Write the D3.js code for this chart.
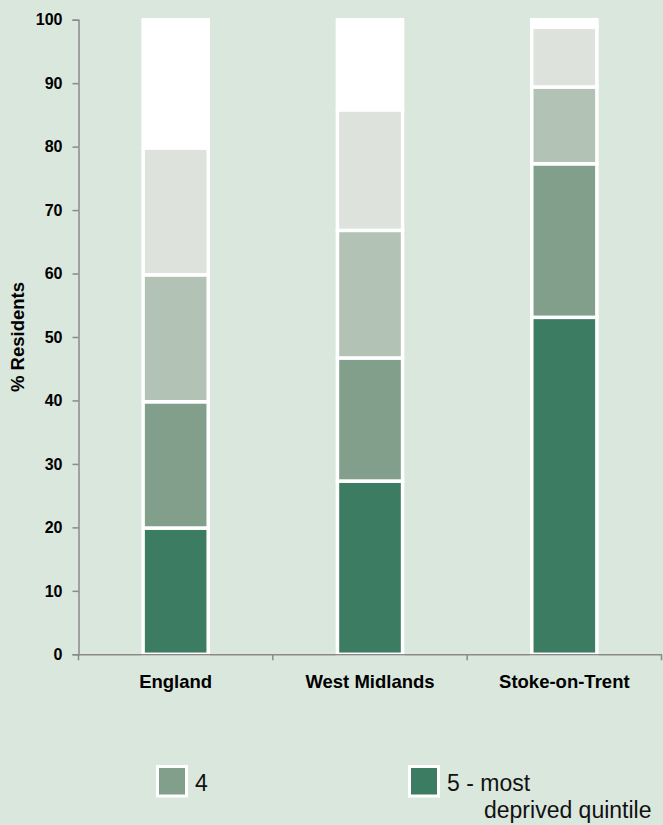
<!DOCTYPE html>
<html>
<head>
<meta charset="utf-8">
<script src="https://cdn.jsdelivr.net/npm/d3@7"></script>
<style>
  html, body { margin: 0; padding: 0; background: #dae7dd; }
  svg { display: block; }
</style>
</head>
<body>
<div id="chart"></div>
<script>
// ---- data ----
const categories = ["England", "West Midlands", "Stoke-on-Trent"];
const quintileKeys = ["q5", "q4", "q3", "q2", "q1"]; // stacking order, bottom first
const q5 = [19.9, 27.3, 53.1]; // 5 - most deprived quintile
const q4 = [19.9, 19.4, 24.2];
const q3 = [20.0, 20.1, 12.1];
const q2 = [20.0, 19.0, 9.4];
const q1 = [20.2, 14.2, 1.2];  // 1 - least deprived
const yTicks = [0, 10, 20, 30, 40, 50, 60, 70, 80, 90, 100];
const yTitle = "% Residents";
const legendKeys = ["q4", "q5"];
const legendLabels = [["4"], ["5 - most", "deprived quintile"]];

const colors = { q1: "#ffffff", q2: "#dde2dc", q3: "#b2c2b4", q4: "#829f8c", q5: "#3c7c62" };

const W = 663, H = 825;
const margin = { left: 78.5, right: 1.5, top: 19.7, bottom: 825 - 654.3 };

const rows = categories.map((c, i) => ({ cat: c, q1: q1[i], q2: q2[i], q3: q3[i], q4: q4[i], q5: q5[i] }));
const series = d3.stack().keys(quintileKeys)(rows);

const svg = d3.select("#chart").append("svg").attr("width", W).attr("height", H);

const x = d3.scaleBand().domain(categories).range([margin.left, W - margin.right]).paddingInner(0).paddingOuter(0);
const y = d3.scaleLinear().domain([0, 100]).range([H - margin.bottom, margin.top]);

const barW = x.bandwidth() * 0.335;

// bars
const g = svg.append("g");
series.forEach(s => {
  g.selectAll(null).data(s).enter().append("rect")
    .attr("x", d => x(d.data.cat) + x.bandwidth() / 2 - barW / 2)
    .attr("y", d => y(d[1]))
    .attr("width", barW)
    .attr("height", d => y(d[0]) - y(d[1]))
    .attr("fill", colors[s.key])
    .attr("stroke", "#ffffff")
    .attr("stroke-width", 3.5);
});

// y axis
const yAxis = d3.axisLeft(y).tickValues(yTicks).tickSize(6).tickPadding(10).tickFormat(d3.format("d"));
const yg = svg.append("g").attr("transform", `translate(${margin.left},0)`).call(yAxis);
yg.select(".domain").attr("stroke", "#8a8a8a").attr("stroke-width", 1.5);
yg.selectAll(".tick line").attr("stroke", "#8a8a8a").attr("stroke-width", 1.5);
yg.selectAll(".tick text")
  .attr("font-family", "'Liberation Sans', Arial, sans-serif")
  .attr("font-weight", "bold").attr("font-size", 16).attr("fill", "#000")
  .attr("dy", "0.33em");

// x axis
const xAxis = d3.axisBottom(x).tickSize(0).tickPadding(0);
const xg = svg.append("g").attr("transform", `translate(0,${y(0)})`).call(xAxis);
xg.select(".domain").attr("stroke", "#8a8a8a").attr("stroke-width", 1.5);
xg.selectAll(".tick text")
  .attr("font-family", "'Liberation Sans', Arial, sans-serif")
  .attr("font-weight", "bold").attr("font-size", 18.5).attr("fill", "#000")
  .attr("y", 34).attr("dy", 0);
// category boundary ticks
const bounds = categories.map(c => x(c)).concat([x(categories[categories.length - 1]) + x.bandwidth()]);
xg.selectAll("line.bound").data(bounds).enter().append("line")
  .attr("class", "bound")
  .attr("x1", d => d).attr("x2", d => d)
  .attr("y1", 0).attr("y2", 6)
  .attr("stroke", "#8a8a8a").attr("stroke-width", 1.5);

// y title
svg.append("text")
  .attr("transform", `translate(24,${(y(0) + y(100)) / 2}) rotate(-90)`)
  .attr("text-anchor", "middle")
  .attr("font-family", "'Liberation Sans', Arial, sans-serif")
  .attr("font-weight", "bold").attr("font-size", 18.5).attr("fill", "#000")
  .text(yTitle);

// legend
const legX = d3.scalePoint().domain(legendKeys).range([156, 408]);
const leg = svg.append("g");
legendKeys.forEach((k, i) => {
  const lx = legX(k);
  leg.append("rect")
    .attr("x", lx + 1.5).attr("y", 766.5)
    .attr("width", 29).attr("height", 29.5)
    .attr("fill", colors[k]).attr("stroke", "#fff").attr("stroke-width", 3);
  const t = leg.append("text")
    .attr("font-family", "'Liberation Sans', Arial, sans-serif")
    .attr("font-size", 23).attr("fill", "#111");
  legendLabels[i].forEach((line, j) => {
    t.append("tspan")
      .attr("x", lx + (j === 0 ? 39 : 76))
      .attr("y", 791 + j * 27)
      .text(line);
  });
});
</script>
</body>
</html>
